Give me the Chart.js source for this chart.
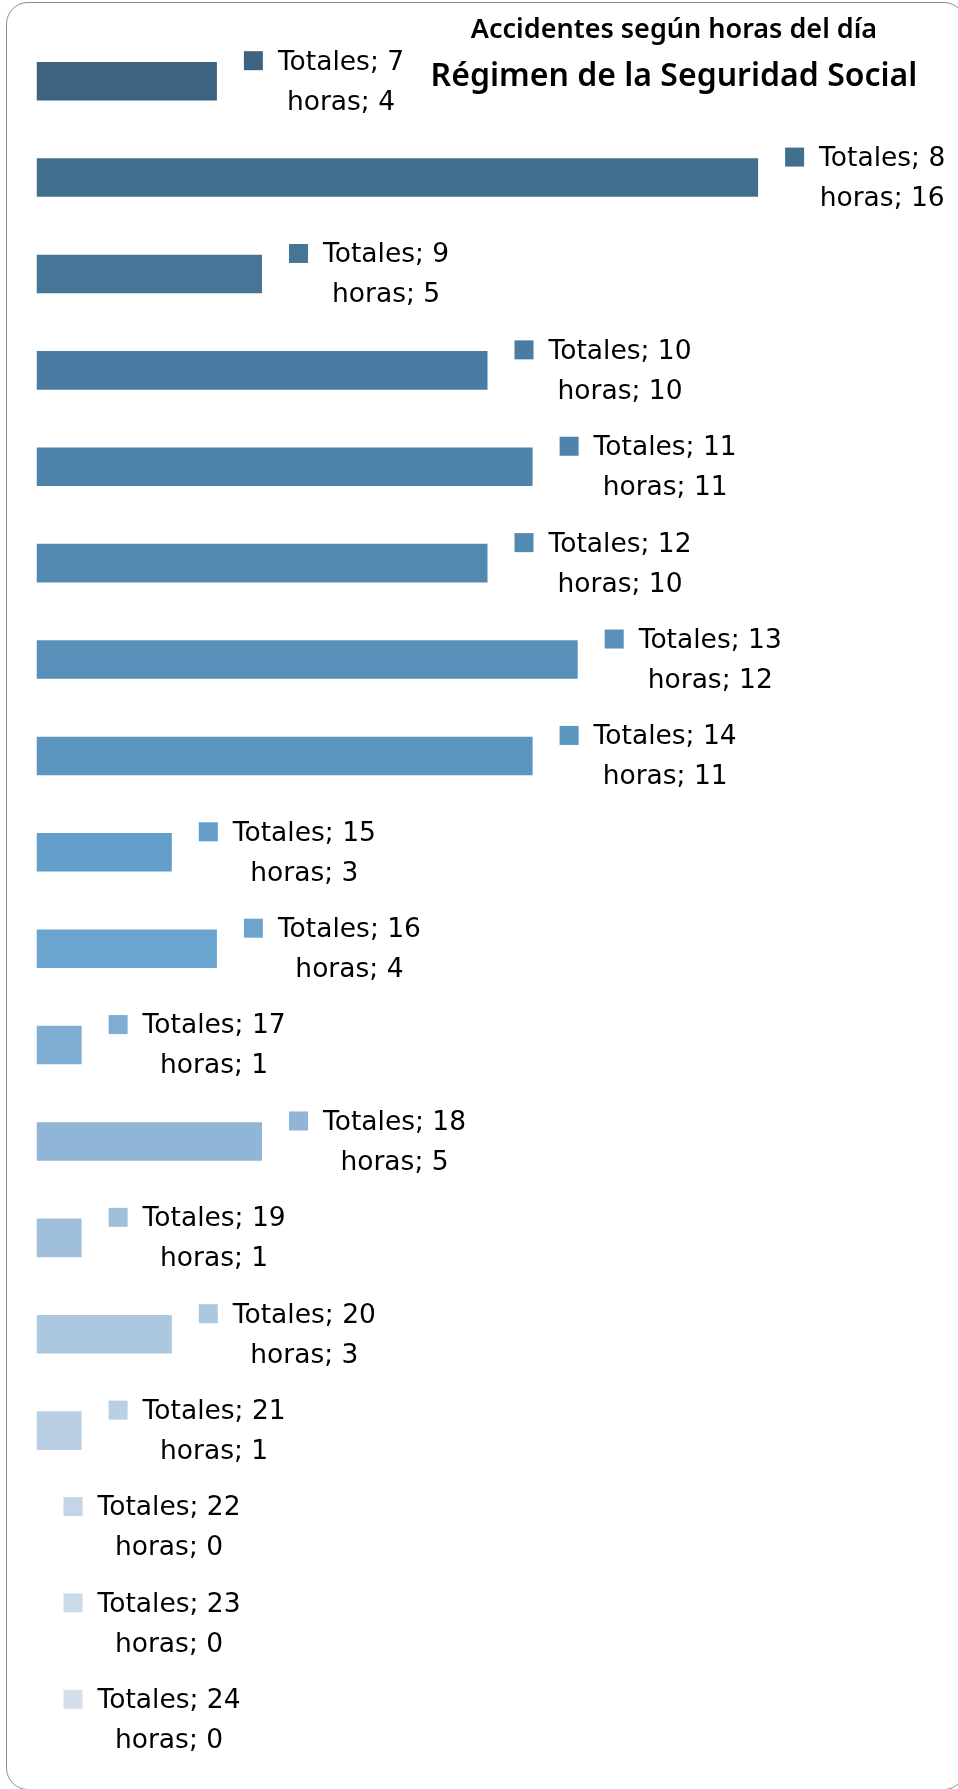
<!DOCTYPE html>
<html>
<head>
<meta charset="utf-8">
<script src="https://cdn.jsdelivr.net/npm/chart.js@4/dist/chart.umd.min.js"></script>
<style>
  body{ margin:0; background:#fff; }
  #wrap{ position:relative; width:958px; height:1789px; overflow:hidden; }
  #frame{ position:absolute; left:6px; top:2px; width:960px; height:1788px;
          border:1.5px solid #8c8c8c; border-radius:22px; box-sizing:border-box; }
  #chart{ position:absolute; left:0; top:0; }
</style>
</head>
<body>
<div id="wrap">
  <div id="frame"></div>
  <canvas id="chart" width="958" height="1789"></canvas>
</div>
<script>
// Hours of the day and accidents per hour
const hours = [7,8,9,10,11,12,13,14,15,16,17,18,19,20,21,22,23,24];
const totals = [4,16,5,10,11,10,12,11,3,4,1,5,1,3,1,0,0,0];
const colors = ['#3d6380','#426f8e','#467598','#4a7ca3','#4e83ab','#5289b1','#5890ba','#5c95c0','#629ec9',
                '#6ba5cf','#7eacd2','#90b5d7','#a0bfdb','#acc7e0','#b9cfe4','#c3d5e7','#cbdbea','#d3e0ec'];
const titleLines = ['Accidentes según horas del día','Régimen de la Seguridad Social'];

// Labels next to every bar: square + "Totales; h" / "horas; v"
const barLabels = {
  id:'barLabels',
  afterDatasetsDraw(chart){
    const c = chart.ctx;
    const meta = chart.getDatasetMeta(0);
    c.save();
    c.font = '26.5px "DejaVu Sans"';
    c.textBaseline = 'middle';
    meta.data.forEach((bar, i)=>{
      const x = bar.x + 27;
      const y = bar.y;
      c.fillStyle = colors[i];
      c.fillRect(x, y - 20.5 - 9.5, 19, 19);
      const t1 = 'Totales; ' + hours[i];
      const t2 = 'horas; ' + totals[i];
      const tx = x + 34;
      const w1 = c.measureText(t1).width;
      c.fillStyle = '#000';
      c.textAlign = 'left';
      c.fillText(t1, tx, y - 18.5);
      c.textAlign = 'center';
      c.fillText(t2, tx + w1/2, y + 21.5);
    });
    // title
    c.textAlign = 'center';
    c.fillStyle = '#000';
    c.font = '600 27px "Noto Sans"';
    c.fillText(titleLines[0], 674, 30);
    c.font = '600 32px "Noto Sans"';
    c.fillText(titleLines[1], 674, 77);
    c.restore();
  }
};

new Chart(document.getElementById('chart'),{
  type:'bar',
  data:{
    labels: hours.map(h=>'Totales; ' + h),
    datasets:[{
      data: totals,
      backgroundColor: colors,
      barPercentage: 0.4,
      categoryPercentage: 1
    }]
  },
  options:{
    indexAxis:'y',
    responsive:false,
    animation:false,
    layout:{ padding:{ left:36.5, right:19.5, top:33, bottom:21 } },
    scales:{
      x:{ display:false, min:0, max:20 },
      y:{ display:false, offset:true }
    },
    plugins:{ legend:{display:false}, tooltip:{enabled:false}, title:{display:false} }
  },
  plugins:[barLabels]
});
</script>
</body>
</html>
